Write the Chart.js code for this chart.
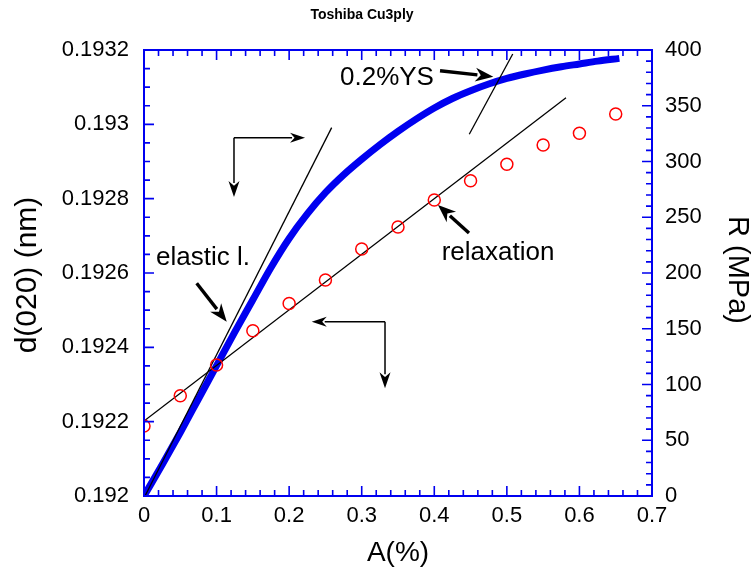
<!DOCTYPE html>
<html><head><meta charset="utf-8">
<script src="https://cdn.jsdelivr.net/npm/chart.js@4.4.0/dist/chart.umd.min.js"></script>
<style>html,body{margin:0;padding:0;background:#fff;overflow:hidden}#wrap{width:752px;height:579px;position:relative}</style>
</head><body><div id="wrap"><canvas id="c" width="752" height="579"></canvas></div>
<script>
// ---- data ----
const curveStrain = [0, 0.025, 0.05, 0.075, 0.1, 0.125, 0.15, 0.175, 0.2, 0.225, 0.25, 0.275, 0.3, 0.325, 0.35, 0.375, 0.4, 0.425, 0.45, 0.475, 0.5, 0.525, 0.55, 0.575, 0.6, 0.625, 0.655];
const curveStress = [0, 28, 57, 87, 117, 147, 176, 205, 231, 253, 272, 288, 302, 315, 327, 338, 348, 356.5, 363.5, 369.5, 374.5, 378.5, 382, 385, 387.5, 390, 392.5];
const relaxStrain = [0, 0.05, 0.1, 0.15, 0.2, 0.25, 0.3, 0.35, 0.4, 0.45, 0.5, 0.55, 0.6, 0.65];
const relaxD = [0.1921883, 0.1922699, 0.1923525, 0.1924448, 0.1925179, 0.1925812, 0.1926646, 0.1927238, 0.1927964, 0.1928483, 0.1928925, 0.1929444, 0.1929759, 0.1930278];
const relaxFitStrain = [0, 0.5815];
const relaxFitD = [0.1922018, 0.1930717];
const elasticStrain = [0.0014, 0.2586];
const elasticStress = [0, 330.4];
const offsetStrain = [0.4482, 0.5081];
const offsetStress = [324.4, 396.4];
const xTicks = [0, 0.1, 0.2, 0.3, 0.4, 0.5, 0.6, 0.7];
const dTicks = [0.192, 0.1922, 0.1924, 0.1926, 0.1928, 0.193, 0.1932];
const rTicks = [0, 50, 100, 150, 200, 250, 300, 350, 400];
const xLabels = ['0', '0.1', '0.2', '0.3', '0.4', '0.5', '0.6', '0.7'];
const dLabels = ['0.192', '0.1922', '0.1924', '0.1926', '0.1928', '0.193', '0.1932'];
const rLabels = ['0', '50', '100', '150', '200', '250', '300', '350', '400'];

const FONT = "'Liberation Sans', Arial, sans-serif";
const BLUE = '#0000f0';

const pts = (xs, ys) => xs.map((x, i) => ({x: x, y: ys[i]}));

// annotations in data units (strain %, stress MPa)
const notes = {
  ysText: {x: 0.2701, y: 375.3, text: '0.2%YS'},
  ysArrow: [0.4079, 381.4, 0.4813, 376.1],
  elText: {x: 0.0165, y: 213.5, text: 'elastic l.'},
  elArrow: [0.0726, 190.8, 0.1140, 156.3],
  rxText: {x: 0.4102, y: 217.9, text: 'relaxation'},
  rxArrow: [0.4478, 235.9, 0.4051, 261.0],
  topL: {cx: 0.1240, cy: 321.3, hx: 0.2219, vy: 268.2},
  botL: {cx: 0.3321, cy: 156.3, hx: 0.2311, vy: 96.6}
};

function arrow(ctx, x1, y1, x2, y2, lw, hl, hw) {
  const a = Math.atan2(y2 - y1, x2 - x1);
  const bx = x2 - hl * Math.cos(a), by = y2 - hl * Math.sin(a);
  ctx.beginPath(); ctx.lineWidth = lw; ctx.strokeStyle = '#000';
  ctx.moveTo(x1, y1); ctx.lineTo(bx + 2 * Math.cos(a), by + 2 * Math.sin(a)); ctx.stroke();
  ctx.beginPath(); ctx.fillStyle = '#000';
  ctx.moveTo(x2, y2);
  ctx.lineTo(bx + hw * Math.sin(a), by - hw * Math.cos(a));
  ctx.lineTo(x2 - hl * 0.7 * Math.cos(a), y2 - hl * 0.7 * Math.sin(a));
  ctx.lineTo(bx - hw * Math.sin(a), by + hw * Math.cos(a));
  ctx.closePath(); ctx.fill();
}

const decor = {
  id: 'decor',
  afterDatasetsDraw(chart) {
    const ctx = chart.ctx, a = chart.chartArea;
    const X = chart.scales.x, L = chart.scales.yL, R = chart.scales.yR;
    ctx.save();
    // frame
    ctx.strokeStyle = BLUE; ctx.lineWidth = 2;
    ctx.strokeRect(a.left, a.top, a.right - a.left, a.bottom - a.top);
    ctx.lineWidth = 1.6;
    ctx.beginPath();
    for (let i = 0; i <= 35; i++) {
      const v = i * 0.02, px = X.getPixelForValue(v), len = (i % 5 === 0) ? 10 : 6;
      ctx.moveTo(px, a.bottom); ctx.lineTo(px, a.bottom - len);
      ctx.moveTo(px, a.top); ctx.lineTo(px, a.top + len);
    }
    for (let i = 0; i <= 24; i++) {
      const v = 0.192 + i * 0.00005, py = L.getPixelForValue(v), len = (i % 4 === 0) ? 10 : 6;
      ctx.moveTo(a.left, py); ctx.lineTo(a.left + len, py);
    }
    for (let i = 0; i <= 40; i++) {
      const v = i * 10, py = R.getPixelForValue(v), len = (i % 5 === 0) ? 10 : 6;
      ctx.moveTo(a.right, py); ctx.lineTo(a.right - len, py);
    }
    ctx.stroke();

    const px = v => X.getPixelForValue(v), py = v => R.getPixelForValue(v);
    // texts
    ctx.fillStyle = '#000'; ctx.font = '26px ' + FONT; ctx.textBaseline = 'middle'; ctx.textAlign = 'left';
    [notes.ysText, notes.elText, notes.rxText].forEach(t => ctx.fillText(t.text, px(t.x), py(t.y)));
    // thick arrows
    [notes.ysArrow, notes.elArrow, notes.rxArrow].forEach(r => arrow(ctx, px(r[0]), py(r[1]), px(r[2]), py(r[3]), 3.4, 18, 7));
    // L-shaped thin arrows
    [notes.topL, notes.botL].forEach(l => {
      const cx = px(l.cx), cy = py(l.cy);
      arrow(ctx, cx, cy, px(l.hx), cy, 1.5, 15, 5);
      arrow(ctx, cx, cy, cx, py(l.vy), 1.5, 16, 5.5);
    });
    // titles
    ctx.textAlign = 'center';
    ctx.font = 'bold 14px ' + FONT;
    ctx.fillText('Toshiba Cu3ply', 362, 15);
    ctx.font = '28px ' + FONT;
    ctx.fillText('A(%)', (a.left + a.right) / 2, 553);
    ctx.font = '30px ' + FONT;
    ctx.save(); ctx.translate(28, 275); ctx.rotate(-Math.PI / 2); ctx.fillText('d(020) (nm)', 0, 0); ctx.restore();
    ctx.font = '29px ' + FONT;
    ctx.save(); ctx.translate(737, 270); ctx.rotate(Math.PI / 2); ctx.fillText('R (MPa)', 0, 0); ctx.restore();
    ctx.restore();
  }
};

const tickFont = {family: FONT, size: 22};
function labelsFrom(values, labels) {
  return (v) => { const i = values.findIndex(t => Math.abs(t - v) < 1e-9); return i >= 0 ? labels[i] : ''; };
}

new Chart(document.getElementById('c'), {
  type: 'line',
  data: {
    datasets: [
      {label: 'relaxation', data: pts(relaxStrain, relaxD), yAxisID: 'yL', showLine: false,
       pointStyle: 'circle', pointRadius: 6, pointBorderWidth: 1.5, pointBorderColor: '#ff0000',
       pointBackgroundColor: 'rgba(0,0,0,0)', order: 1},
      {label: 'relax fit', data: pts(relaxFitStrain, relaxFitD), yAxisID: 'yL', borderColor: '#000',
       borderWidth: 1.3, pointRadius: 0, order: 2},
      {label: 'elastic', data: pts(elasticStrain, elasticStress), yAxisID: 'yR', borderColor: '#000',
       borderWidth: 1.3, pointRadius: 0, order: 2},
      {label: 'offset', data: pts(offsetStrain, offsetStress), yAxisID: 'yR', borderColor: '#000',
       borderWidth: 1.3, pointRadius: 0, order: 2},
      {label: 'stress', data: pts(curveStrain, curveStress), yAxisID: 'yR', borderColor: BLUE,
       borderWidth: 7, pointRadius: 0, cubicInterpolationMode: 'monotone', borderCapStyle: 'butt', order: 5}
    ]
  },
  options: {
    responsive: false, animation: false, devicePixelRatio: 1,
    layout: {padding: {top: 50, left: 0, right: 0, bottom: 0}},
    plugins: {legend: {display: false}, tooltip: {enabled: false}, title: {display: false}},
    elements: {line: {tension: 0}},
    scales: {
      x: {type: 'linear', position: 'bottom', min: 0, max: 0.7,
          afterBuildTicks: s => { s.ticks = xTicks.map(v => ({value: v})); },
          afterFit: s => { s.height = 83; },
          grid: {display: false, drawTicks: false}, border: {display: false},
          ticks: {callback: labelsFrom(xTicks, xLabels), font: tickFont, color: '#000', padding: 7, maxRotation: 0, autoSkip: false}},
      yL: {type: 'linear', position: 'left', min: 0.192, max: 0.1932,
          afterBuildTicks: s => { s.ticks = dTicks.map(v => ({value: v})); },
          afterFit: s => { s.width = 144; },
          grid: {display: false, drawTicks: false}, border: {display: false},
          ticks: {callback: labelsFrom(dTicks, dLabels), font: tickFont, color: '#000', padding: 15, autoSkip: false}},
      yR: {type: 'linear', position: 'right', min: 0, max: 400,
          afterBuildTicks: s => { s.ticks = rTicks.map(v => ({value: v})); },
          afterFit: s => { s.width = 100; },
          grid: {display: false, drawTicks: false}, border: {display: false},
          ticks: {callback: labelsFrom(rTicks, rLabels), font: tickFont, color: '#000', padding: 13, autoSkip: false}}
    }
  },
  plugins: [decor]
});
</script>
</body></html>
